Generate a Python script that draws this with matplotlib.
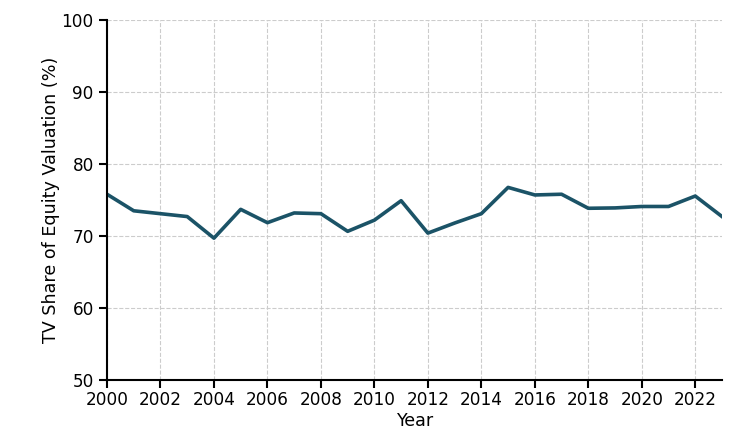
import matplotlib
matplotlib.use('Agg')
import matplotlib.pyplot as plt

years = list(range(2000, 2024))
tv_share = [75.8, 73.5, 73.1, 72.7, 69.7, 73.7, 71.85, 73.2, 73.1, 70.65, 72.2, 74.9,
            70.4, 71.8, 73.1, 76.75, 75.7, 75.8, 73.85, 73.9, 74.1, 74.1, 75.55, 72.7]
xticks = list(range(2000, 2024, 2))
yticks = [50, 60, 70, 80, 90, 100]

fig = plt.figure(figsize=(7.53, 4.38), dpi=100)
ax = fig.add_axes([107 / 753, 58 / 438, 615 / 753, 360 / 438])

ax.plot(years, tv_share, color='#1b5367', linewidth=2.6)

ax.set_xlim(2000, 2023)
ax.set_ylim(50, 100)
ax.set_xticks(xticks)
ax.set_yticks(yticks)
ax.grid(True, linestyle='--', color='#cccccc', linewidth=0.8)
ax.set_axisbelow(True)

ax.spines['top'].set_visible(False)
ax.spines['right'].set_visible(False)
ax.spines['left'].set_linewidth(1.5)
ax.spines['bottom'].set_linewidth(1.5)
ax.tick_params(axis='both', labelsize=12.2, length=6, width=1.5)
ax.tick_params(axis='x', pad=2)

ax.set_xlabel('Year', fontsize=12.6, labelpad=2)
ax.set_ylabel('TV Share of Equity Valuation (%)', fontsize=12.6, labelpad=1)

plt.savefig('out.png', dpi=100)
